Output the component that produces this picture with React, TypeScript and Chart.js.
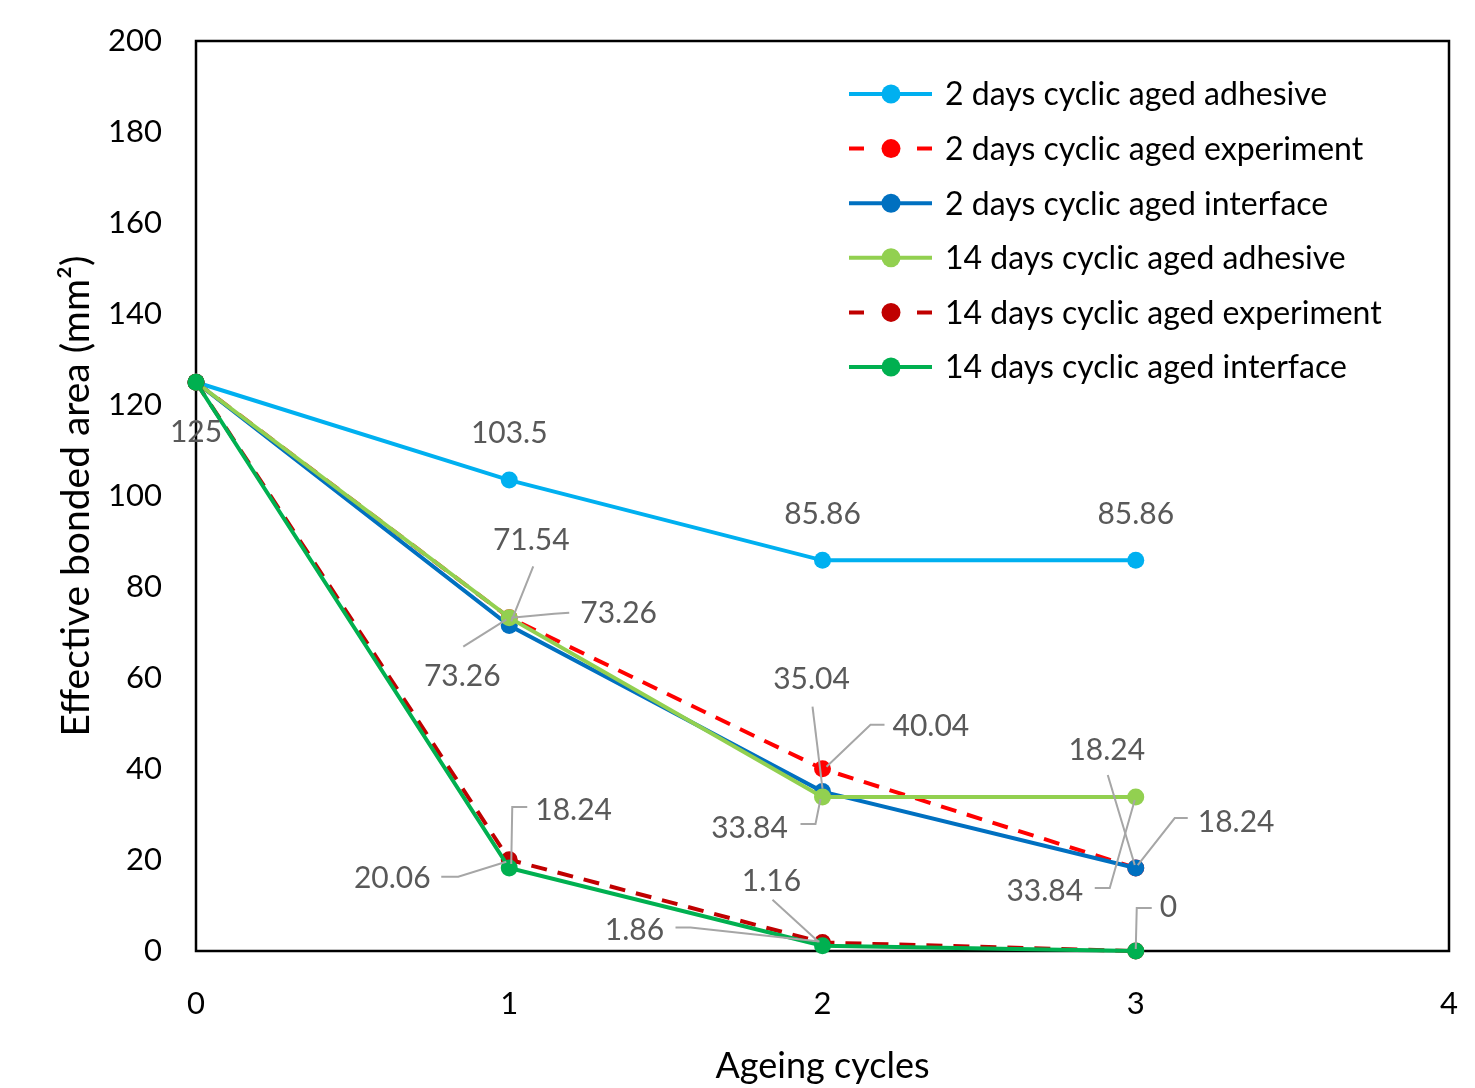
import React, { useEffect, useRef } from "react";
import { Chart, registerables } from "chart.js";

Chart.register(...registerables);

const cycles = [0, 1, 2, 3];
const seriesNames = [
  "2 days cyclic aged adhesive",
  "2 days cyclic aged experiment",
  "2 days cyclic aged interface",
  "14 days cyclic aged adhesive",
  "14 days cyclic aged experiment",
  "14 days cyclic aged interface",
];
const adhesive2 = [125, 103.5, 85.86, 85.86];
const experiment2 = [125, 73.26, 40.04, 18.24];
const interface2 = [125, 71.54, 35.04, 18.24];
const adhesive14 = [125, 73.26, 33.84, 33.84];
const experiment14 = [125, 20.06, 1.86, 0];
const interface14 = [125, 18.24, 1.16, 0];
const seriesValues = [adhesive2, experiment2, interface2, adhesive14, experiment14, interface14];
const seriesColors = ["#00B0F0", "#FF0000", "#0070C0", "#92D050", "#C00000", "#00B050"];
const seriesDashed = [false, true, false, false, true, false];
const yTicks = [0, 20, 40, 60, 80, 100, 120, 140, 160, 180, 200];
const xTicks = [0, 1, 2, 3, 4];

// Data label placement: [dataset, index, text offset dx, dy, align, leader points relative to the point]
type LabelPlace = { ds: number; i: number; dx: number; dy: number; align: CanvasTextAlign; leader: number[][] };
const labelPlacement: LabelPlace[] = [
  { ds: 0, i: 0, dx: 0, dy: 50, align: "center", leader: [] },
  { ds: 0, i: 1, dx: 0, dy: -47, align: "center", leader: [] },
  { ds: 0, i: 2, dx: 0, dy: -46, align: "center", leader: [] },
  { ds: 0, i: 3, dx: 0, dy: -46, align: "center", leader: [] },
  { ds: 2, i: 1, dx: 22, dy: -85, align: "center", leader: [[24, -59], [2, -4]] },
  { ds: 1, i: 1, dx: 71, dy: -4, align: "left", leader: [[60, -5], [45, -4], [2, 0]] },
  { ds: 3, i: 1, dx: -47, dy: 59, align: "center", leader: [[-46, 29], [-3, 2]] },
  { ds: 2, i: 2, dx: -11, dy: -112, align: "center", leader: [[-10, -85], [0, -3]] },
  { ds: 1, i: 2, dx: 70, dy: -42, align: "left", leader: [[62, -44], [48, -44], [4, -2]] },
  { ds: 3, i: 2, dx: -73, dy: 31, align: "center", leader: [[-22, 27], [-7, 27], [-2, 2]] },
  { ds: 2, i: 3, dx: -29, dy: -118, align: "center", leader: [[-28, -93], [-1, -3]] },
  { ds: 1, i: 3, dx: 62, dy: -46, align: "left", leader: [[52, -50], [39, -50], [2, -3]] },
  { ds: 3, i: 3, dx: -91, dy: 94, align: "center", leader: [[-41, 91], [-26, 91], [-1, 3]] },
  { ds: 5, i: 3, dx: 24, dy: -44, align: "left", leader: [[16, -43], [1, -43], [0, -2]] },
  { ds: 5, i: 1, dx: 26, dy: -58, align: "left", leader: [[18, -61], [3, -61], [2, -4]] },
  { ds: 4, i: 1, dx: -117, dy: 19, align: "center", leader: [[-68, 17], [-51, 17], [-3, 2]] },
  { ds: 4, i: 2, dx: -188, dy: -12, align: "center", leader: [[-147, -15], [-132, -15], [-3, -1]] },
  { ds: 5, i: 2, dx: -51, dy: -64, align: "center", leader: [[-50, -46], [-4, -4]] },
];

const FONT = "Lato";

const annotationsPlugin = {
  id: "annotations",
  beforeDatasetsDraw(chart: any) {
    const { ctx, chartArea } = chart;
    ctx.save();
    ctx.strokeStyle = "#000";
    ctx.lineWidth = 2.5;
    ctx.strokeRect(chartArea.left, chartArea.top, chartArea.right - chartArea.left, chartArea.bottom - chartArea.top);
    ctx.restore();
  },
  afterDatasetsDraw(chart: any) {
    const { ctx } = chart;
    ctx.save();
    // leaders
    ctx.strokeStyle = "#A6A6A6";
    ctx.lineWidth = 2;
    labelPlacement.forEach((p) => {
      if (!p.leader.length) return;
      const el = chart.getDatasetMeta(p.ds).data[p.i];
      ctx.beginPath();
      p.leader.forEach((pt, k) => {
        const x = el.x + pt[0];
        const y = el.y + pt[1];
        if (k === 0) ctx.moveTo(x, y);
        else ctx.lineTo(x, y);
      });
      ctx.stroke();
    });
    // texts
    ctx.fillStyle = "#595959";
    ctx.font = `30px ${FONT}`;
    ctx.textBaseline = "middle";
    labelPlacement.forEach((p) => {
      const el = chart.getDatasetMeta(p.ds).data[p.i];
      ctx.textAlign = p.align;
      ctx.fillText(String(seriesValues[p.ds][p.i]), el.x + p.dx, el.y + p.dy);
    });
    // legend
    ctx.font = `32px ${FONT}`;
    ctx.textAlign = "left";
    seriesNames.forEach((name, k) => {
      const y = 94 + k * 54.6;
      ctx.strokeStyle = seriesColors[k];
      ctx.fillStyle = seriesColors[k];
      ctx.lineWidth = 4;
      ctx.beginPath();
      if (seriesDashed[k]) {
        ctx.moveTo(849, y);
        ctx.lineTo(864, y);
        ctx.moveTo(917, y);
        ctx.lineTo(932, y);
      } else {
        ctx.moveTo(849, y);
        ctx.lineTo(932, y);
      }
      ctx.stroke();
      ctx.beginPath();
      ctx.arc(891, y, 9.5, 0, Math.PI * 2);
      ctx.fill();
      ctx.fillStyle = "#000";
      ctx.fillText(name, 945, y + 1);
    });
    ctx.restore();
  },
};

export default function App() {
  const ref = useRef<HTMLCanvasElement | null>(null);
  useEffect(() => {
    if (!ref.current) return;
    const n = seriesValues.length;
    const chart = new Chart(ref.current, {
      type: "line",
      data: {
        datasets: seriesValues.map((vals, k) => ({
          label: seriesNames[k],
          data: vals.map((v, i) => ({ x: cycles[i], y: v })),
          borderColor: seriesColors[k],
          backgroundColor: seriesColors[k],
          pointBackgroundColor: seriesColors[k],
          pointBorderWidth: 0,
          pointRadius: 8.5,
          borderWidth: 4,
          borderDash: seriesDashed[k] ? [16, 11] : [],
          tension: 0,
          fill: false,
          clip: false as any,
          order: n - k,
        })),
      },
      options: {
        animation: false,
        responsive: false,
        maintainAspectRatio: false,
        layout: { padding: { top: 41, right: 26, left: 0, bottom: 0 } },
        plugins: { legend: { display: false }, tooltip: { enabled: false }, title: { display: false } },
        scales: {
          x: {
            type: "linear",
            min: 0,
            max: 4,
            afterBuildTicks: (s: any) => {
              s.ticks = xTicks.map((v) => ({ value: v }));
            },
            afterFit: (s: any) => {
              s.height = 137;
              s.paddingLeft = 0;
              s.paddingRight = 0;
            },
            grid: { display: false, drawTicks: false },
            border: { display: false },
            ticks: { color: "#000", font: { family: FONT, size: 31 }, padding: 34 },
            title: {
              display: true,
              text: "Ageing cycles",
              color: "#000",
              font: { family: FONT, size: 36 },
              padding: { top: 0, bottom: 0 },
            },
          },
          y: {
            type: "linear",
            min: 0,
            max: 200,
            afterBuildTicks: (s: any) => {
              s.ticks = yTicks.map((v) => ({ value: v }));
            },
            afterFit: (s: any) => {
              s.width = 196;
              s.paddingTop = 0;
              s.paddingBottom = 0;
            },
            grid: { display: false, drawTicks: false },
            border: { display: false },
            ticks: { color: "#000", font: { family: FONT, size: 31 }, padding: 34 },
            title: {
              display: true,
              text: "Effective bonded area (mm²)",
              color: "#000",
              font: { family: FONT, size: 39 },
              padding: { top: 53, bottom: 0 },
            },
          },
        },
      },
      plugins: [annotationsPlugin],
    });
    return () => chart.destroy();
  }, []);
  return (
    <div style={{ position: "fixed", left: 0, top: 0, width: 1475, height: 1088, background: "#fff" }}>
      <canvas ref={ref} width={1475} height={1088} style={{ display: "block", width: 1475, height: 1088 }} />
    </div>
  );
}
